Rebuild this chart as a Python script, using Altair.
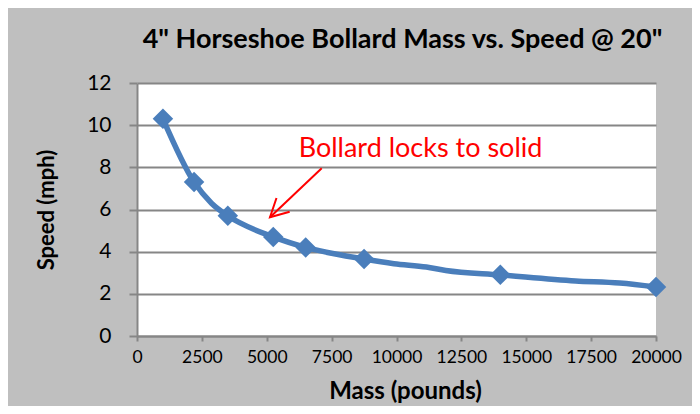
import altair as alt
import pandas as pd

# Line (smoothed curve) points
mass_line = [1000, 2200, 2870, 3500, 5250, 6500, 8750, 9900, 11150, 11900, 14000, 16900, 18600, 20000]
speed_line = [10.3, 7.3, 6.3, 5.7, 4.7, 4.2, 3.65, 3.43, 3.27, 3.11, 2.9, 2.61, 2.51, 2.32]

# Marked data points
marker_mass = [1000, 2200, 3500, 5250, 6500, 8750, 14000, 20000]
marker_speed = [10.3, 7.3, 5.7, 4.7, 4.2, 3.65, 2.9, 2.32]

x_ticks = list(range(0, 20001, 1250))
y_ticks = [0, 2, 4, 6, 8, 10, 12]

annotation_text = ["Bollard locks to solid"]
annotation_mass = [10925]
annotation_speed = [8.48]

arrow_start_mass = [7118]
arrow_start_speed = [7.96]
arrow_tip_mass = [5125]
arrow_tip_speed = [5.63]

BLUE = "#4a7ebb"
GRAY = "#868686"
FONT = "Lato"

line_df = pd.DataFrame({"mass": mass_line, "speed": speed_line})
mark_df = pd.DataFrame({"mass": marker_mass, "speed": marker_speed})
ann_df = pd.DataFrame({"mass": annotation_mass, "speed": annotation_speed, "text": annotation_text})
arrow_df = pd.DataFrame({"m1": arrow_start_mass, "s1": arrow_start_speed,
                         "m2": arrow_tip_mass, "s2": arrow_tip_speed})

x_scale = alt.Scale(domain=[0, 20000], nice=False, zero=True)
y_scale = alt.Scale(domain=[0, 12], nice=False)

x_axis = alt.Axis(
    title="Mass (pounds)", values=x_ticks,
    labelExpr="datum.value % 2500 == 0 ? format(datum.value, 'd') : ''",
    grid=False, domainColor=GRAY, domainWidth=2, tickColor=GRAY, tickWidth=2,
    tickSize=5, labelFontSize=17.5, labelFont=FONT, labelColor="black",
    labelPadding=7, labelFlush=False, labelOverlap=False,
    titleFont=FONT, titleFontSize=24, titleFontWeight="bold", titleColor="black",
    titlePadding=14, titleX=268,
)
y_axis = alt.Axis(
    title="Speed (mph)", values=y_ticks, grid=True, gridColor=GRAY, gridWidth=2,
    domainColor=GRAY, domainWidth=2, tickColor=GRAY, tickWidth=2, tickSize=8,
    labelFontSize=21, labelFont=FONT, labelColor="black", labelPadding=18,
    titleFont=FONT, titleFontSize=22, titleFontWeight="bold", titleColor="black",
    titlePadding=28,
)

base = alt.Chart(line_df)

line = base.mark_line(color=BLUE, strokeWidth=5.5, interpolate="monotone").encode(
    x=alt.X("mass:Q", scale=x_scale, axis=x_axis),
    y=alt.Y("speed:Q", scale=y_scale, axis=y_axis),
)

points = alt.Chart(mark_df).mark_point(shape="diamond", filled=True, size=420,
                                       color=BLUE, opacity=1).encode(
    x=alt.X("mass:Q", scale=x_scale),
    y=alt.Y("speed:Q", scale=y_scale),
)

text = alt.Chart(ann_df).mark_text(color="#ff0000", font=FONT, fontSize=27,
                                   align="center", baseline="alphabetic").encode(
    x="mass:Q", y="speed:Q", text="text:N",
)

arrow_line = alt.Chart(arrow_df).mark_rule(color="#ff0000", strokeWidth=2).encode(
    x="m1:Q", y="s1:Q", x2="m2:Q", y2="s2:Q",
)

arrow_head = alt.Chart(arrow_df).mark_point(
    shape="M -1 -0.53 L 0 0 L -1 0.53", filled=False, size=1300,
    color="#ff0000", strokeWidth=2, angle=136.5, opacity=1,
).encode(x="m2:Q", y="s2:Q")

chart = alt.layer(line, points, arrow_line, arrow_head, text).properties(
    width=519, height=253,
    title=alt.TitleParams(
        text='4" Horseshoe Bollard Mass vs. Speed @ 20"',
        font=FONT, fontSize=27, fontWeight="bold", color="black",
        anchor="middle", dx=6, offset=18,
    ),
    autosize=alt.AutoSizeParams(type="none"),
    padding={"left": 129, "top": 75, "right": 36, "bottom": 70},
    background="#bfbfbf",
).configure_view(strokeWidth=0, fill="white")

chart.save("out.html", embed_options={"renderer": "svg", "actions": False})
